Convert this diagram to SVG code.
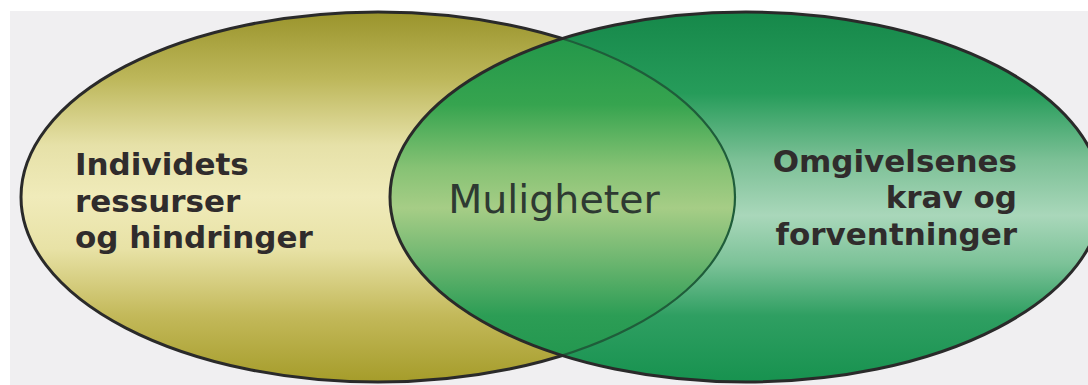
<svg xmlns="http://www.w3.org/2000/svg" width="1088" height="385" viewBox="0 0 1088 385">
  <style>
    .outline { fill: none; stroke: #2a2a2a; stroke-width: 3; }
    .seen { fill: none; stroke: #1f5d3a; stroke-width: 2.2; }
    .bold { font-family: "DejaVu Sans", Verdana, sans-serif; font-weight: bold; font-size: 31px; fill: #302c2c; }
    .mid { font-family: "DejaVu Sans", Verdana, sans-serif; font-size: 39.5px; fill: #2e3a32; }
  </style>
  <defs>
    <linearGradient id="gLeft" x1="0" y1="0" x2="0" y2="1">
      <stop offset="0" stop-color="#9a942c"/>
      <stop offset="0.18" stop-color="#bdb75a"/>
      <stop offset="0.36" stop-color="#e6e1a8"/>
      <stop offset="0.5" stop-color="#f0ebba"/>
      <stop offset="0.64" stop-color="#e8e2a6"/>
      <stop offset="0.82" stop-color="#c3b95a"/>
      <stop offset="1" stop-color="#a59c2a"/>
    </linearGradient>
    <linearGradient id="gRight" x1="0" y1="0" x2="0" y2="1">
      <stop offset="0" stop-color="#16884a"/>
      <stop offset="0.22" stop-color="#269c5a"/>
      <stop offset="0.4" stop-color="#7cc096"/>
      <stop offset="0.55" stop-color="#a9d7ba"/>
      <stop offset="0.68" stop-color="#7cc298"/>
      <stop offset="0.82" stop-color="#2f9f62"/>
      <stop offset="1" stop-color="#17924f"/>
    </linearGradient>
    <linearGradient id="gLens" x1="0" y1="0" x2="0" y2="1">
      <stop offset="0" stop-color="#1c9248"/>
      <stop offset="0.25" stop-color="#36a44f"/>
      <stop offset="0.42" stop-color="#86c274"/>
      <stop offset="0.53" stop-color="#a6cd86"/>
      <stop offset="0.66" stop-color="#72b872"/>
      <stop offset="0.82" stop-color="#2c9d55"/>
      <stop offset="1" stop-color="#1e944c"/>
    </linearGradient>
    <clipPath id="clipLeft">
      <ellipse cx="378" cy="197" rx="357" ry="185"/>
    </clipPath>
    <clipPath id="clipRight">
      <ellipse cx="746" cy="197" rx="356" ry="185"/>
    </clipPath>
  </defs>

  <rect x="0" y="0" width="1088" height="385" fill="#ffffff"/>
  <rect x="10" y="11" width="1078" height="374" fill="#f0eff1"/>

  <g id="left-set">
    <ellipse cx="378" cy="197" rx="357" ry="185" fill="url(#gLeft)"/>
    <ellipse class="outline" cx="378" cy="197" rx="357" ry="185"/>
  </g>

  <g id="right-set">
    <ellipse cx="746" cy="197" rx="356" ry="185" fill="url(#gRight)"/>
  </g>

  <g id="overlap">
    <ellipse cx="746" cy="197" rx="356" ry="185" fill="url(#gLens)" clip-path="url(#clipLeft)"/>
    <ellipse class="seen" cx="378" cy="197" rx="357" ry="185" clip-path="url(#clipRight)"/>
  </g>

  <g id="right-outline">
    <ellipse class="outline" cx="746" cy="197" rx="356" ry="185"/>
  </g>

  <g id="labels">
    <text class="bold" x="75" y="175">Individets</text>
    <text class="bold" x="75" y="212">ressurser</text>
    <text class="bold" x="75" y="248">og hindringer</text>
    <text class="mid" x="554" y="213" text-anchor="middle">Muligheter</text>
    <text class="bold" x="1017" y="172" text-anchor="end">Omgivelsenes</text>
    <text class="bold" x="1017" y="208" text-anchor="end">krav og</text>
    <text class="bold" x="1017" y="245" text-anchor="end">forventninger</text>
  </g>
</svg>
